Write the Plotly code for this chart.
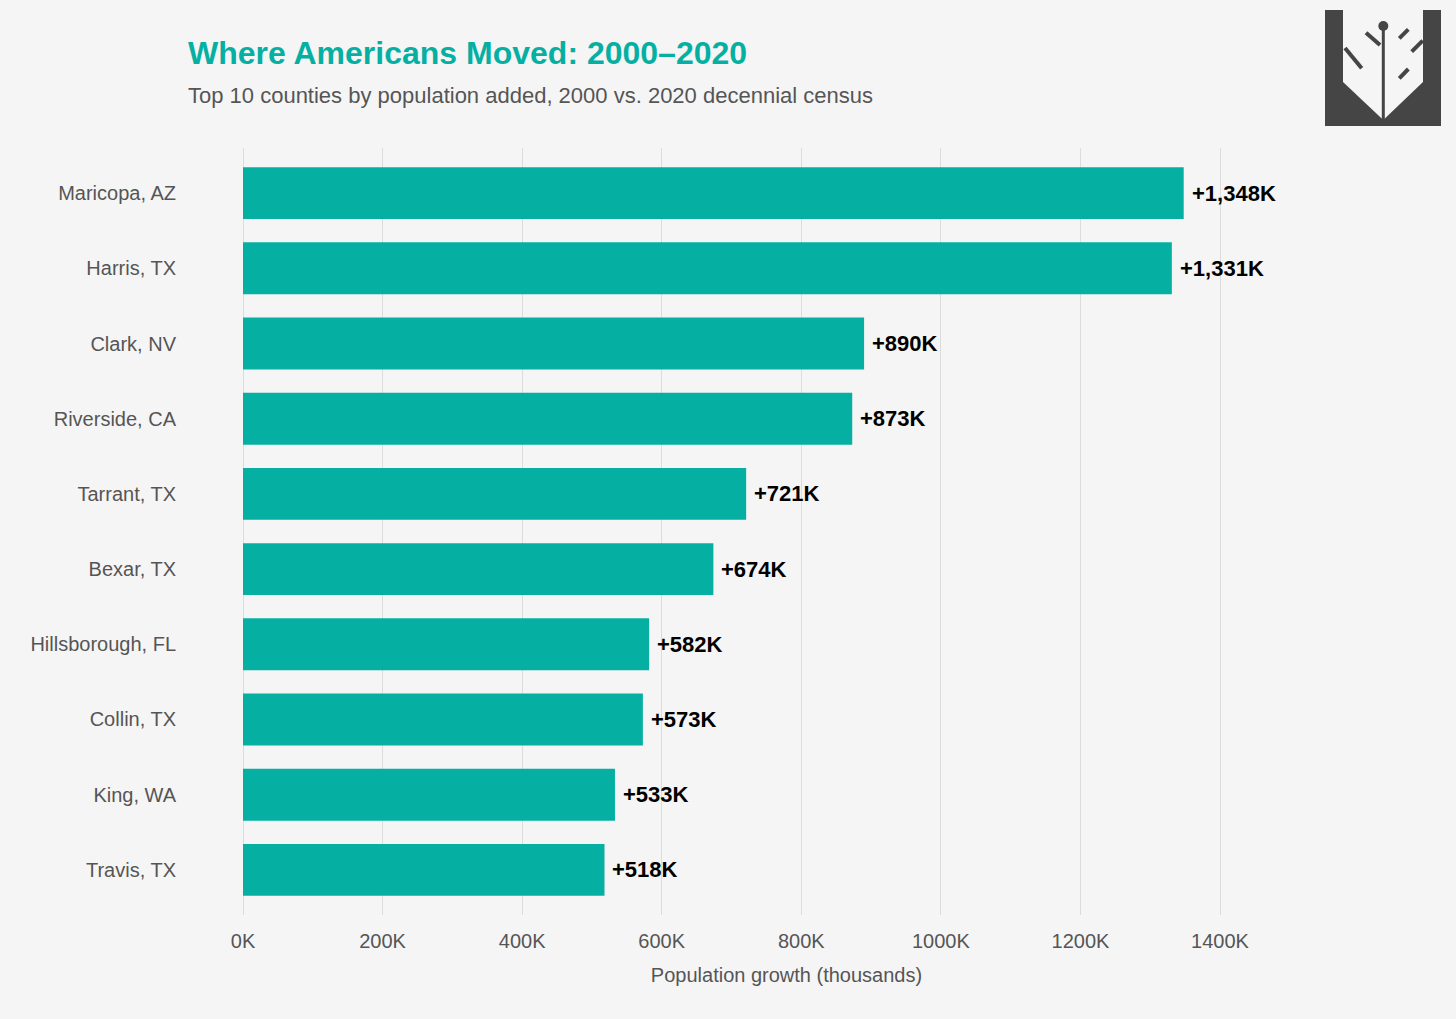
import plotly.graph_objects as go

counties = ["Maricopa, AZ", "Harris, TX", "Clark, NV", "Riverside, CA", "Tarrant, TX",
            "Bexar, TX", "Hillsborough, FL", "Collin, TX", "King, WA", "Travis, TX"]
growth_k = [1348, 1331, 890, 873, 721, 674, 582, 573, 533, 518]
labels = ["+1,348K", "+1,331K", "+890K", "+873K", "+721K", "+674K", "+582K", "+573K", "+533K", "+518K"]
x_ticks = [0, 200, 400, 600, 800, 1000, 1200, 1400]

W, H = 1456, 1019
L, R, T, B = 243, 1330, 148, 915
TEAL = "#05b0a3"
BG = "#f5f5f5"
FONT = "Liberation Sans, Arial, Helvetica, sans-serif"

def px(x):
    return (x - L) / (R - L)

def py(y):
    return (B - y) / (B - T)

fig = go.Figure()
fig.add_trace(go.Bar(
    x=growth_k, y=counties, orientation="h",
    marker=dict(color=TEAL, line=dict(width=0)),
    width=0.69, hoverinfo="skip",
))

for c, v, lab in zip(counties, growth_k, labels):
    fig.add_annotation(x=v, y=c, xref="x", yref="y", text=f"<b>{lab}</b>",
                       showarrow=False, xanchor="left", xshift=6,
                       font=dict(family=FONT, size=22, color="#000000"))

# title / subtitle
fig.add_annotation(x=px(186), y=py(53), xref="paper", yref="paper", xanchor="left", yanchor="middle",
                   text="<b>Where Americans Moved: 2000–2020</b>", showarrow=False,
                   font=dict(family=FONT, size=32, color=TEAL))
fig.add_annotation(x=px(186), y=py(96), xref="paper", yref="paper", xanchor="left", yanchor="middle",
                   text="Top 10 counties by population added, 2000 vs. 2020 decennial census", showarrow=False,
                   font=dict(family=FONT, size=22, color="#555555"))

# logo
shapes = []
DARK = "#454545"
shapes.append(dict(type="rect", xref="paper", yref="paper", x0=px(1325), x1=px(1441), y0=py(126), y1=py(10),
                   fillcolor=DARK, line=dict(width=0), layer="above"))
poly = [(1343, 10), (1423, 10), (1423, 82), (1383.3, 120), (1343, 82)]
path = "M " + " L ".join(f"{px(a):.5f},{py(b):.5f}" for a, b in poly) + " Z"
shapes.append(dict(type="path", xref="paper", yref="paper", path=path, fillcolor=BG,
                   line=dict(width=0), layer="above"))
lines = [((1383.3, 26), (1383.3, 120), 3),
         ((1366, 32.7), (1380, 45), 4),
         ((1345, 48), (1361.7, 68.3), 4),
         ((1399.3, 38.3), (1408.3, 29.3), 4),
         ((1411.7, 51.7), (1422.7, 40.7), 4),
         ((1399.3, 78.3), (1408.3, 69), 4)]
for (a0, b0), (a1, b1), w in lines:
    shapes.append(dict(type="line", xref="paper", yref="paper", x0=px(a0), y0=py(b0), x1=px(a1), y1=py(b1),
                       line=dict(color=DARK, width=w), layer="above"))
shapes.append(dict(type="circle", xref="paper", yref="paper", x0=px(1378.3), x1=px(1388.3),
                   y0=py(31), y1=py(21), fillcolor=DARK, line=dict(width=0), layer="above"))

fig.update_layout(
    width=W, height=H,
    margin=dict(l=L, r=W - R, t=T, b=H - B),
    paper_bgcolor=BG, plot_bgcolor=BG,
    showlegend=False,
    shapes=shapes,
    font=dict(family=FONT),
    xaxis=dict(range=[0, (R - L) / ((1220 - 243) / 1400)], tickvals=x_ticks,
               ticktext=[f"{t}K" for t in x_ticks],
               showgrid=True, gridcolor="#dcdcdc", gridwidth=1,
               zeroline=True, zerolinecolor="#dcdcdc", zerolinewidth=1,
               showline=False, ticks="", ticklabelstandoff=12,
               tickfont=dict(family=FONT, size=20, color="#555555"),
               title=dict(text="Population growth (thousands)", standoff=16,
                          font=dict(family=FONT, size=20, color="#555555"))),
    yaxis=dict(categoryorder="array", categoryarray=counties, autorange=False,
               range=[9.6, -0.6], showgrid=False, zeroline=False, showline=False, ticks="",
               ticklabelstandoff=66,
               tickfont=dict(family=FONT, size=20, color="#555555")),
)

fig.write_html("out.html", config={"displayModeBar": False},
               post_script="document.body.style.margin='0';document.body.style.background='#f5f5f5';")
